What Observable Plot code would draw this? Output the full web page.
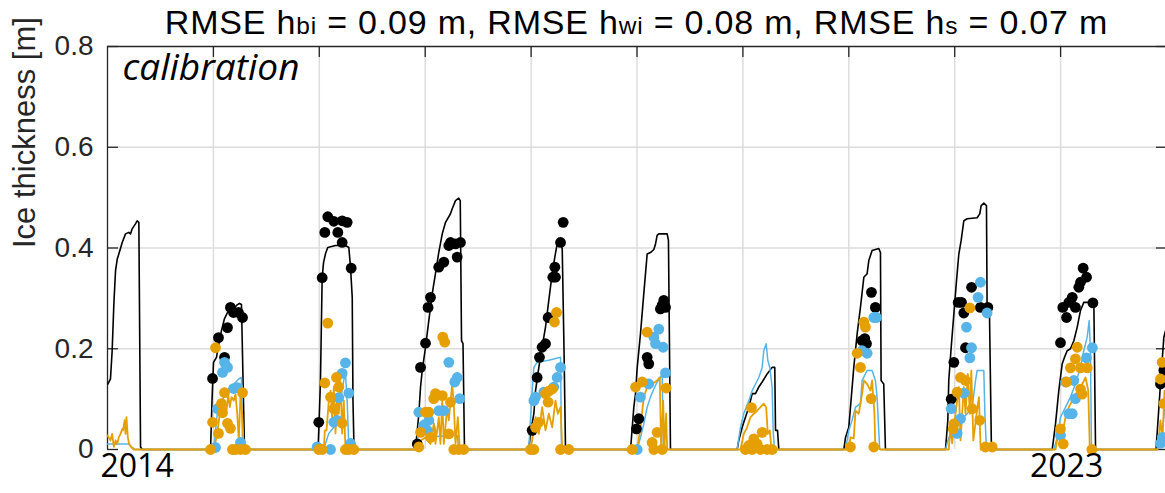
<!DOCTYPE html>
<html><head><meta charset="utf-8">
<script src="https://cdn.jsdelivr.net/npm/d3@7"></script>
<script src="https://cdn.jsdelivr.net/npm/@observablehq/plot@0.6"></script>
<style>
body{margin:0;background:#fff;}
#wrap{position:relative;width:1165px;height:493px;overflow:hidden;background:#fff;}
#title{position:absolute;left:107px;width:1059px;top:7px;text-align:center;font-family:"Liberation Sans",Arial,sans-serif;font-size:34px;letter-spacing:0.8px;line-height:30px;height:30px;color:#000;white-space:nowrap;}
#title .sub{font-size:0.72em;display:inline-block;line-height:18px;}
</style></head>
<body><div id="wrap"></div>
<script>
// ---- data (decimal year, metres) ----
const rmseVars = ["bi", "wi", "s"];
const rmseVals = ["0.09", "0.08", "0.07"];
const panelLabel = "calibration";
const yLabel = "Ice thickness [m]";
const xDomain = [2014, 2024];
const yDomain = [0, 0.8];
const yTicks = [0, 0.2, 0.4, 0.6, 0.8];
const yGrid = [0.2, 0.4, 0.6];
const gridYears = [2015, 2016, 2017, 2018, 2019, 2020, 2021, 2022, 2023];
const xLabelYears = [2014, 2023];

// modelled total ice thickness (black line)
const blackLine = [
[2014.003,0.130],[2014.028,0.140],[2014.044,0.196],[2014.060,0.289],[2014.076,0.355],[2014.092,0.378],[2014.107,0.388],[2014.139,0.411],[2014.170,0.428],[2014.201,0.431],[2014.217,0.428],[2014.233,0.438],[2014.264,0.448],[2014.280,0.454],[2014.296,0.451],[2014.312,0.005],[2014.327,0],
[2014.973,0],[2014.987,0.097],[2015.001,0.173],[2015.029,0.183],[2015.048,0.206],[2015.076,0.236],[2015.105,0.260],[2015.133,0.272],[2015.161,0.280],[2015.199,0.280],[2015.218,0.286],[2015.246,0.290],[2015.265,0.288],[2015.280,0.137],[2015.294,0],
[2015.988,0],[2015.997,0.048],[2016.011,0.137],[2016.027,0.341],[2016.040,0.371],[2016.059,0.389],[2016.080,0.401],[2016.153,0.405],[2016.247,0.405],[2016.279,0.401],[2016.295,0.361],[2016.311,0.302],[2016.318,0.097],[2016.328,0],
[2016.908,0],[2016.940,0.071],[2016.956,0.124],[2016.972,0.157],[2017.003,0.203],[2017.034,0.256],[2017.066,0.309],[2017.097,0.349],[2017.128,0.391],[2017.161,0.428],[2017.192,0.451],[2017.239,0.468],[2017.255,0.478],[2017.286,0.494],[2017.317,0.499],[2017.331,0.494],[2017.343,0.216],[2017.357,0.210],[2017.371,0],
[2017.978,0],[2017.994,0.032],[2018.026,0.071],[2018.042,0.117],[2018.073,0.163],[2018.104,0.203],[2018.136,0.243],[2018.167,0.296],[2018.199,0.349],[2018.224,0.382],[2018.246,0.408],[2018.259,0.419],[2018.278,0.413],[2018.294,0.398],[2018.311,0.196],[2018.325,0],
[2018.939,0],[2018.970,0.084],[2018.986,0.111],[2019.002,0.163],[2019.033,0.230],[2019.064,0.309],[2019.096,0.388],[2019.127,0.391],[2019.159,0.397],[2019.175,0.408],[2019.190,0.425],[2019.206,0.428],[2019.285,0.428],[2019.297,0.415],[2019.316,0],
[2019.946,0],[2019.961,0.018],[2019.993,0.044],[2020.024,0.064],[2020.056,0.084],[2020.088,0.111],[2020.119,0.111],[2020.150,0.124],[2020.182,0.134],[2020.229,0.150],[2020.276,0.163],[2020.301,0.163],[2020.308,0.038],[2020.327,0.038],[2020.339,0],
[2020.953,0],[2020.969,0.024],[2021.000,0.044],[2021.016,0.084],[2021.047,0.163],[2021.079,0.230],[2021.110,0.282],[2021.142,0.342],[2021.173,0.349],[2021.189,0.375],[2021.220,0.395],[2021.283,0.399],[2021.299,0.391],[2021.305,0.137],[2021.330,0.130],[2021.346,0],
[2021.913,0],[2021.935,0.058],[2021.944,0.137],[2021.967,0.203],[2021.992,0.269],[2022.017,0.335],[2022.039,0.388],[2022.061,0.415],[2022.086,0.454],[2022.118,0.458],[2022.212,0.460],[2022.237,0.468],[2022.250,0.484],[2022.275,0.489],[2022.300,0.484],[2022.306,0.282],[2022.328,0.276],[2022.347,0],
[2022.921,0],[2022.952,0.051],[2022.983,0.117],[2023.015,0.170],[2023.037,0.183],[2023.062,0.196],[2023.093,0.200],[2023.125,0.216],[2023.157,0.243],[2023.188,0.276],[2023.219,0.292],[2023.314,0.292],[2023.330,0],
[2023.901,0],[2023.920,0.058],[2023.943,0.130],[2023.975,0.223],[2023.991,0.236]
];

// modelled white ice (blue line)
const blueLine = [
[2014.000,0.011],[2014.200,0.011],[2014.230,0.005],[2014.260,0],
[2015.004,0],[2015.036,0.071],[2015.098,0.104],[2015.161,0.124],[2015.193,0.130],[2015.240,0.140],[2015.265,0.143],[2015.275,0.018],[2015.289,0],
[2016.040,0],[2016.090,0.032],[2016.137,0.044],[2016.169,0.071],[2016.200,0.097],[2016.231,0.137],[2016.247,0.151],[2016.263,0.097],[2016.279,0.004],[2016.290,0],
[2016.918,0],[2016.936,0.038],[2016.974,0.058],[2017.012,0.048],[2017.050,0.067],[2017.088,0.048],[2017.107,0.026],[2017.239,0.028],[2017.305,0.028],[2017.314,0],
[2017.978,0],[2018.004,0.097],[2018.026,0.163],[2018.057,0.173],[2018.167,0.177],[2018.278,0.183],[2018.287,0],
[2019.002,0],[2019.033,0.024],[2019.064,0.051],[2019.096,0.084],[2019.127,0.104],[2019.159,0.120],[2019.190,0.134],[2019.221,0.143],[2019.237,0.150],[2019.250,0],
[2019.946,0],[2019.977,0.044],[2020.008,0.071],[2020.056,0.097],[2020.088,0.117],[2020.119,0.130],[2020.150,0.143],[2020.182,0.163],[2020.197,0.196],[2020.220,0.210],[2020.235,0.177],[2020.254,0.163],[2020.276,0.124],[2020.286,0.038],[2020.298,0],
[2020.969,0],[2021.000,0.038],[2021.031,0.058],[2021.063,0.084],[2021.110,0.091],[2021.126,0.137],[2021.173,0.157],[2021.220,0.157],[2021.251,0.137],[2021.267,0.104],[2021.292,0],
[2021.913,0],[2021.944,0.024],[2021.976,0.031],[2022.008,0.038],[2022.055,0.058],[2022.118,0.071],[2022.165,0.084],[2022.197,0.137],[2022.212,0.157],[2022.275,0.157],[2022.285,0.071],[2022.300,0],
[2022.937,0],[2022.968,0.024],[2022.999,0.064],[2023.047,0.084],[2023.093,0.104],[2023.140,0.130],[2023.188,0.163],[2023.219,0.196],[2023.251,0.223],[2023.270,0.256],[2023.282,0.196],[2023.291,0],
[2023.915,0],[2023.943,0.018],[2023.972,0.058],[2023.991,0.097]
];

// modelled snow (orange line)
const orangeLine = [
[2014.000,0.028],[2014.012,0.024],[2014.028,0.018],[2014.044,0.031],[2014.060,0.005],[2014.076,0.018],[2014.092,0.011],[2014.107,0.024],[2014.123,0.031],[2014.139,0.041],[2014.147,0.038],[2014.161,0.058],[2014.170,0.031],[2014.179,0.064],[2014.192,0.024],[2014.204,0.011],[2014.223,0.005],[2014.248,0],
[2015.004,0],[2015.036,0.031],[2015.060,0.071],[2015.083,0.084],[2015.105,0.097],[2015.124,0.077],[2015.140,0.110],[2015.155,0.084],[2015.171,0.104],[2015.193,0.097],[2015.209,0.110],[2015.225,0.071],[2015.240,0.018],[2015.256,0.110],[2015.272,0.071],[2015.287,0],
[2016.043,0],[2016.052,0.038],[2016.068,0.038],[2016.090,0.097],[2016.106,0.117],[2016.122,0.058],[2016.137,0.124],[2016.153,0.032],[2016.169,0.111],[2016.184,0.071],[2016.200,0.134],[2016.216,0.032],[2016.231,0.097],[2016.247,0],
[2016.940,0],[2016.956,0.018],[2017.003,0.024],[2017.050,0.011],[2017.081,0.051],[2017.097,0.011],[2017.128,0.064],[2017.144,0.011],[2017.161,0.097],[2017.176,0.011],[2017.208,0.084],[2017.223,0.058],[2017.255,0.130],[2017.270,0.091],[2017.286,0.011],[2017.308,0.064],[2017.327,0],
[2017.994,0],[2018.010,0.018],[2018.042,0.064],[2018.073,0.031],[2018.104,0.084],[2018.136,0.038],[2018.167,0.071],[2018.199,0.044],[2018.230,0.097],[2018.252,0.071],[2018.278,0.084],[2018.294,0],
[2019.002,0],[2019.033,0.044],[2019.064,0.104],[2019.096,0.124],[2019.143,0.130],[2019.190,0.137],[2019.215,0.143],[2019.228,0],[2019.247,0.097],[2019.259,0],[2019.275,0.071],[2019.285,0],
[2019.977,0],[2020.008,0.031],[2020.040,0.044],[2020.071,0.064],[2020.103,0.071],[2020.135,0.077],[2020.166,0.084],[2020.197,0.091],[2020.220,0.084],[2020.235,0.031],[2020.254,0.038],[2020.270,0],
[2021.000,0],[2021.016,0.024],[2021.047,0.022],[2021.063,0.077],[2021.094,0.071],[2021.126,0.111],[2021.142,0.137],[2021.173,0.130],[2021.205,0.117],[2021.220,0.137],[2021.242,0.071],[2021.251,0],[2021.280,0.006],[2021.299,0],
[2021.944,0],[2021.960,0.044],[2021.976,0.012],[2022.008,0.071],[2022.039,0.124],[2022.055,0.018],[2022.086,0.124],[2022.102,0.071],[2022.124,0.150],[2022.143,0.071],[2022.157,0.157],[2022.176,0.018],[2022.207,0.071],[2022.229,0.104],[2022.245,0],
[2022.952,0],[2022.983,0.038],[2023.015,0.032],[2023.047,0.064],[2023.078,0.084],[2023.110,0.097],[2023.140,0.110],[2023.172,0.117],[2023.204,0.130],[2023.236,0.143],[2023.261,0.117],[2023.276,0],
[2023.915,0],[2023.943,0.058],[2023.962,0.018],[2023.981,0.117],[2023.991,0.100]
];

// observations (dots)
const blackObs = [
[2014.992,0.141],[2015.048,0.222],[2015.105,0.183],[2015.133,0.242],[2015.161,0.282],[2015.190,0.272],[2015.237,0.272],[2015.275,0.262],
[2015.995,0.054],[2016.027,0.341],[2016.052,0.431],[2016.080,0.462],[2016.137,0.453],[2016.175,0.431],[2016.216,0.411],[2016.216,0.454],[2016.263,0.451],[2016.301,0.360],
[2016.925,0.011],[2016.956,0.163],[2017.003,0.211],[2017.027,0.282],[2017.050,0.302],[2017.128,0.362],[2017.176,0.372],[2017.223,0.405],[2017.239,0.411],[2017.286,0.408],[2017.302,0.382],[2017.333,0.411],
[2018.010,0.038],[2018.057,0.143],[2018.079,0.183],[2018.104,0.203],[2018.136,0.210],[2018.161,0.262],[2018.205,0.342],[2018.224,0.362],[2018.230,0.342],[2018.278,0.411],[2018.303,0.451],
[2018.995,0.041],[2019.017,0.061],[2019.096,0.183],[2019.111,0.170],[2019.221,0.279],[2019.237,0.286],[2019.253,0.296],[2019.269,0.282],
[2021.126,0.216],[2021.151,0.220],[2021.167,0.210],[2021.214,0.312],[2021.251,0.282],
[2021.967,0.100],[2021.992,0.173],[2022.033,0.292],[2022.064,0.292],[2022.086,0.271],[2022.102,0.202],[2022.159,0.322],[2022.243,0.282],[2022.313,0.282],
[2022.999,0.212],[2023.021,0.282],[2023.056,0.262],[2023.078,0.292],[2023.110,0.302],[2023.140,0.282],[2023.172,0.322],[2023.188,0.332],[2023.213,0.360],[2023.245,0.342],[2023.305,0.291],
[2023.943,0.130],[2023.975,0.157]
];
const blueObs = [
[2015.020,0.004],[2015.039,0.081],[2015.086,0.153],[2015.105,0.173],[2015.133,0.163],[2015.190,0.121],[2015.228,0.123],[2015.256,0.014],
[2015.979,0.005],[2016.106,0],[2016.137,0.054],[2016.169,0.058],[2016.184,0.103],[2016.216,0.151],[2016.247,0.172],[2016.279,0.112],[2016.295,0.012],
[2016.940,0.074],[2016.987,0.048],[2017.019,0.038],[2017.034,0.058],[2017.128,0.077],[2017.176,0.077],[2017.223,0.173],[2017.279,0.134],[2017.302,0.143],[2017.327,0.101],
[2018.026,0.097],[2018.042,0.104],[2018.120,0.114],[2018.214,0.124],[2018.246,0.143],[2018.278,0.163],
[2019.002,0],[2019.033,0.104],[2019.111,0.130],[2019.159,0.223],[2019.175,0.210],[2019.206,0.239],[2019.247,0.203],[2019.269,0.152],
[2021.126,0.196],[2021.173,0.191],[2021.236,0.262],[2021.262,0.262],
[2021.967,0.081],[2022.023,0.032],[2022.055,0.061],[2022.086,0.112],[2022.111,0.243],[2022.143,0.182],[2022.159,0.202],[2022.221,0.302],[2022.243,0.332],[2022.306,0.271],
[2022.999,0.028],[2023.047,0.134],[2023.078,0.071],[2023.110,0.071],[2023.125,0.137],[2023.140,0.101],[2023.245,0.182],[2023.300,0.202],
[2023.943,0.012],[2023.962,0.024]
];
const orangeObs = [
[2014.973,0],[2014.992,0.054],[2015.020,0.202],[2015.048,0.032],[2015.076,0.091],[2015.086,0.073],[2015.105,0.113],[2015.133,0.052],[2015.161,0.042],[2015.180,0],[2015.209,0],[2015.256,0],[2015.275,0.113],[2015.303,0],
[2015.995,0],[2016.027,0],[2016.052,0.132],[2016.080,0.251],[2016.106,0.104],[2016.137,0.081],[2016.162,0.143],[2016.184,0.124],[2016.216,0.052],[2016.247,0],[2016.279,0],[2016.326,0],
[2016.940,0.005],[2016.956,0.034],[2017.003,0.074],[2017.034,0.074],[2017.050,0.024],[2017.081,0.101],[2017.097,0.111],[2017.161,0.107],[2017.166,0.223],[2017.185,0.213],[2017.223,0.031],[2017.239,0.094],[2017.270,0],[2017.317,0],[2017.364,0],
[2017.994,0],[2018.026,0],[2018.042,0.044],[2018.073,0.054],[2018.136,0.111],[2018.161,0.094],[2018.167,0.116],[2018.199,0.120],[2018.221,0.253],[2018.240,0.272],[2018.278,0],[2018.356,0],
[2018.954,0],[2018.986,0.124],[2019.048,0.134],[2019.096,0.233],[2019.143,0.014],[2019.159,0],[2019.190,0.034],[2019.237,0],[2019.275,0.122],
[2020.024,0],[2020.056,0.008],[2020.081,0.083],[2020.087,0],[2020.103,0.021],[2020.135,0.011],[2020.166,0],[2020.182,0.034],[2020.229,0],[2020.276,0],
[2021.016,0.005],[2021.079,0.191],[2021.110,0.163],[2021.142,0.253],[2021.157,0.243],[2021.211,0.101],[2021.236,0.005],
[2021.986,0.041],[2021.992,0.051],[2022.023,0.114],[2022.055,0.143],[2022.102,0.137],[2022.143,0.281],[2022.165,0.081],[2022.237,0.058],[2022.290,0.005],[2022.354,0.005],
[2022.999,0.041],[2023.025,0.011],[2023.056,0.134],[2023.093,0.162],[2023.140,0.180],[2023.157,0.203],[2023.188,0.162],[2023.188,0.120],[2023.204,0.110],[2023.251,0.162],[2023.295,0],
[2023.943,0.140],[2023.959,0.173],[2023.975,0.091]
];

const C_BLACK = "#000000", C_BLUE = "#56B4E9", C_ORANGE = "#E69F00";
const AX = "#262626", GRID = "#dcdcdc";
const X = d => d[0], Y = d => d[1];
const fmtY = d => d === 0 ? "0" : String(d);

const plot = Plot.plot({
  width: 1165, height: 493,
  marginLeft: 107, marginRight: -1, marginTop: 46, marginBottom: 44,
  x: {domain: xDomain},
  y: {domain: yDomain},
  style: {fontFamily: '"Liberation Sans", Arial, sans-serif', fontSize: "28px", color: AX, background: "#fff"},
  marks: [
    Plot.gridX(gridYears, {stroke: GRID, strokeOpacity: 1, strokeWidth: 1.5}),
    Plot.gridY(yGrid, {stroke: GRID, strokeOpacity: 1, strokeWidth: 1.5}),
    Plot.ruleX([xDomain[0]], {stroke: AX, strokeWidth: 1.3}),
    Plot.ruleY([yDomain[1]], {stroke: AX, strokeWidth: 1.3}),
    Plot.axisY(yTicks, {anchor: "left", tickSize: -11, tickPadding: 25, tickFormat: fmtY, label: null, fontSize: 28, fill: AX, stroke: AX, strokeWidth: 1.3}),
    Plot.axisY(yTicks, {anchor: "right", tickSize: -11, tickFormat: () => "", label: null, stroke: AX, strokeWidth: 1.3}),
    Plot.axisX(gridYears, {anchor: "top", tickSize: -10, tickFormat: () => "", label: null, stroke: AX, strokeWidth: 1.3}),
    Plot.line(blackLine, {x: X, y: Y, stroke: C_BLACK, strokeWidth: 1.6}),
    Plot.line(blueLine, {x: X, y: Y, stroke: C_BLUE, strokeWidth: 1.5}),
    Plot.line(orangeLine, {x: X, y: Y, stroke: C_ORANGE, strokeWidth: 1.8}),
    Plot.dot(blackObs, {x: X, y: Y, r: 5.4, fill: C_BLACK, stroke: null}),
    Plot.dot(blueObs, {x: X, y: Y, r: 5.4, fill: C_BLUE, stroke: null}),
    Plot.dot(orangeObs, {x: X, y: Y, r: 5.4, fill: C_ORANGE, stroke: null}),
    Plot.text([yLabel], {text: d => d, frameAnchor: "left", dx: -82, rotate: -90, fontSize: 31, fill: AX}),
    Plot.text([panelLabel], {text: d => d, frameAnchor: "top-left", dx: 15, dy: 7, lineAnchor: "top", textAnchor: "start", fontStyle: "italic", fontFamily: '"Open Sans", sans-serif', fontSize: 37, fill: "#000"}),
    Plot.text(xLabelYears.filter(d => d === xLabelYears[0]), {x: d => d, text: d => String(d), frameAnchor: "bottom", dy: 27, dx: -7, textAnchor: "start", fontFamily: '"Open Sans", sans-serif', fontSize: 32, fill: "#000"}),
    Plot.text(xLabelYears.filter(d => d !== xLabelYears[0]), {x: d => d, text: d => String(d), frameAnchor: "bottom", dy: 27, dx: 6, textAnchor: "middle", fontFamily: '"Open Sans", sans-serif', fontSize: 32, fill: "#000"})
  ]
});

const wrap = document.getElementById("wrap");
wrap.appendChild(plot);
const title = document.createElement("div");
title.id = "title";
title.innerHTML = rmseVars.map((v, i) => `RMSE h<span class="sub">${v}</span> = ${rmseVals[i]} m`).join(", ");
wrap.appendChild(title);
</script>
</body></html>
